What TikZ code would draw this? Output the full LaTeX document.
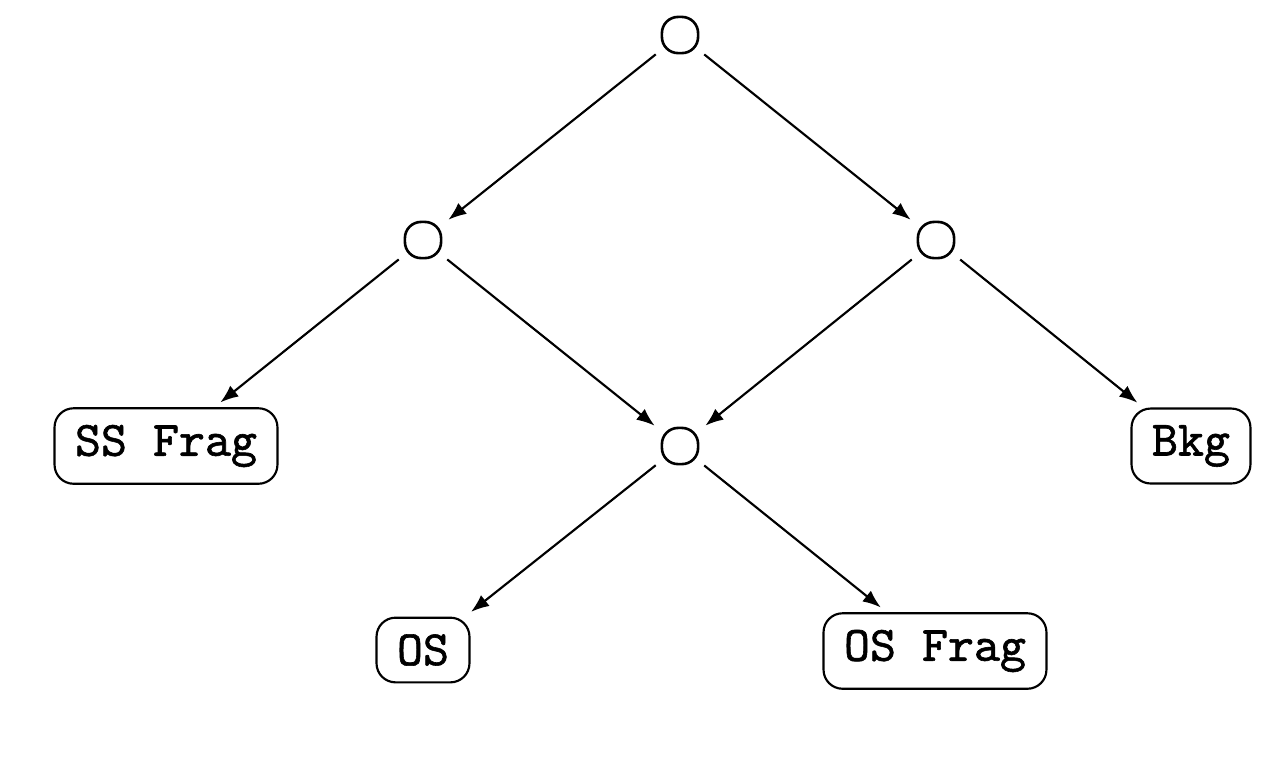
\documentclass[tikz,border=0pt]{standalone}
\usepackage{fontspec}
\setmonofont{Latin Modern Mono}[FakeBold=1.2]
\usetikzlibrary{arrows.meta}
\begin{document}
\begin{tikzpicture}[x=0.21pt,y=-0.21pt,
  dot/.style={draw,rectangle,rounded corners=3.4pt,minimum size=7.6pt,inner sep=0pt,line width=0.55pt},
  leaf/.style={draw,rectangle,rounded corners=4pt,font=\fontsize{10.4}{12}\selectfont\ttfamily,inner xsep=4.3pt,inner ysep=3.5pt,line width=0.45pt},
  conn/.style={-{Latex[length=3.8pt,width=2.9pt]},line width=0.45pt,shorten <=1.3pt,shorten >=1.6pt}]
\useasboundingbox (0,0) rectangle (1263,777);
\node[dot] (top) at (680,35) {};
\node[dot] (l1) at (423,240) {};
\node[dot] (r1) at (936,240) {};
\node[dot] (mid) at (680,446) {};
\node[leaf] (ss) at (166,446) {SS Frag};
\node[leaf] (bkg) at (1191,446) {Bkg};
\node[leaf] (os) at (423,650) {OS};
\node[leaf] (osf) at (935,651) {OS Frag};
\draw[conn] (top) -- (l1);
\draw[conn] (top) -- (r1);
\draw[conn] (l1) -- (ss);
\draw[conn] (l1) -- (mid);
\draw[conn] (r1) -- (mid);
\draw[conn] (r1) -- (bkg);
\draw[conn] (mid) -- (os);
\draw[conn] (mid) -- (osf);
\end{tikzpicture}
\end{document}
